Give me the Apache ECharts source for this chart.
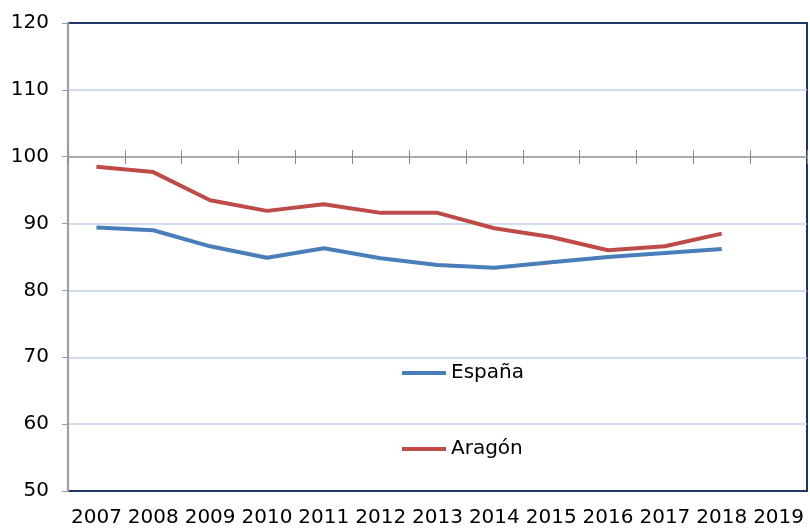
<!DOCTYPE html>
<html>
<head>
<meta charset="utf-8">
<script src="https://cdn.jsdelivr.net/npm/echarts@6/dist/echarts.min.js"></script>
<style>
    html, body { margin: 0; padding: 0; background: #fff; }
    #chart { width: 810px; height: 528px; }
</style>
</head>
<body>
<div id="chart"></div>
<script>
// años y series (índice)
const years = ['2007', '2008', '2009', '2010', '2011', '2012', '2013', '2014', '2015', '2016', '2017', '2018', '2019']
const espana = [89.4, 89.0, 86.6, 84.9, 86.3, 84.8, 83.8, 83.4, 84.2, 85.0, 85.6, 86.2]
const aragon = [98.5, 97.7, 93.5, 91.9, 92.9, 91.6, 91.6, 89.3, 88.0, 86.0, 86.6, 88.5]

const chart = echarts.init(document.getElementById('chart'))
const font = 'DejaVu Sans'
const gridTop = 23
const gridBottom = 37
const plotHeight = 528 - gridTop - gridBottom
// el eje X cruza en 100
const crossOffset = -Math.round(plotHeight * (100 - 50) / 70)

const option = {
    animation: false,
    textStyle: { fontFamily: font },
    grid: {
        left: 68,
        right: 3,
        top: gridTop,
        bottom: gridBottom,
        show: true,
        borderColor: '#1f3768',
        borderWidth: 2
    },
    legend: {
        orient: 'vertical',
        left: 397,
        top: 358,
        itemGap: 56,
        itemWidth: 44,
        itemHeight: 4,
        icon: 'rect',
        textStyle: { fontSize: 20, color: '#000', fontFamily: font },
        data: ['España', 'Aragón']
    },
    xAxis: [
        {
            type: 'category',
            data: years,
            position: 'bottom',
            axisLine: { show: false },
            axisTick: { show: false },
            axisLabel: { fontSize: 20, color: '#000', margin: 17, interval: 0 }
        },
        {
            type: 'category',
            data: years,
            position: 'bottom',
            offset: crossOffset,
            axisLine: { show: true, lineStyle: { color: '#9a9a9a', width: 1.5 } },
            axisTick: { show: true, length: 7, lineStyle: { color: '#8a8a8a' } },
            axisLabel: { show: false }
        },
        {
            type: 'category',
            data: years,
            position: 'bottom',
            offset: crossOffset,
            axisLine: { show: false },
            axisTick: { show: true, inside: true, length: 7, lineStyle: { color: '#8a8a8a' } },
            axisLabel: { show: false }
        }
    ],
    yAxis: {
        type: 'value',
        min: 50,
        max: 120,
        interval: 10,
        axisLine: { show: true, lineStyle: { color: '#a0a0a0', width: 2.2 } },
        axisTick: { show: true, length: 6, lineStyle: { color: '#9a9a9a' } },
        axisLabel: { fontSize: 20, color: '#000', margin: 19 },
        splitLine: {
            showMinLine: false,
            showMaxLine: false,
            lineStyle: { color: '#bfd2ec', width: 1.5 }
        }
    },
    series: [
        {
            name: 'España',
            type: 'line',
            data: espana,
            symbol: 'none',
            color: '#4a7ebb',
            lineStyle: { width: 4, color: '#4a7ebb' }
        },
        {
            name: 'Aragón',
            type: 'line',
            data: aragon,
            symbol: 'none',
            color: '#be4b48',
            lineStyle: { width: 4, color: '#be4b48' }
        }
    ]
}
chart.setOption(option)
</script>
</body>
</html>
